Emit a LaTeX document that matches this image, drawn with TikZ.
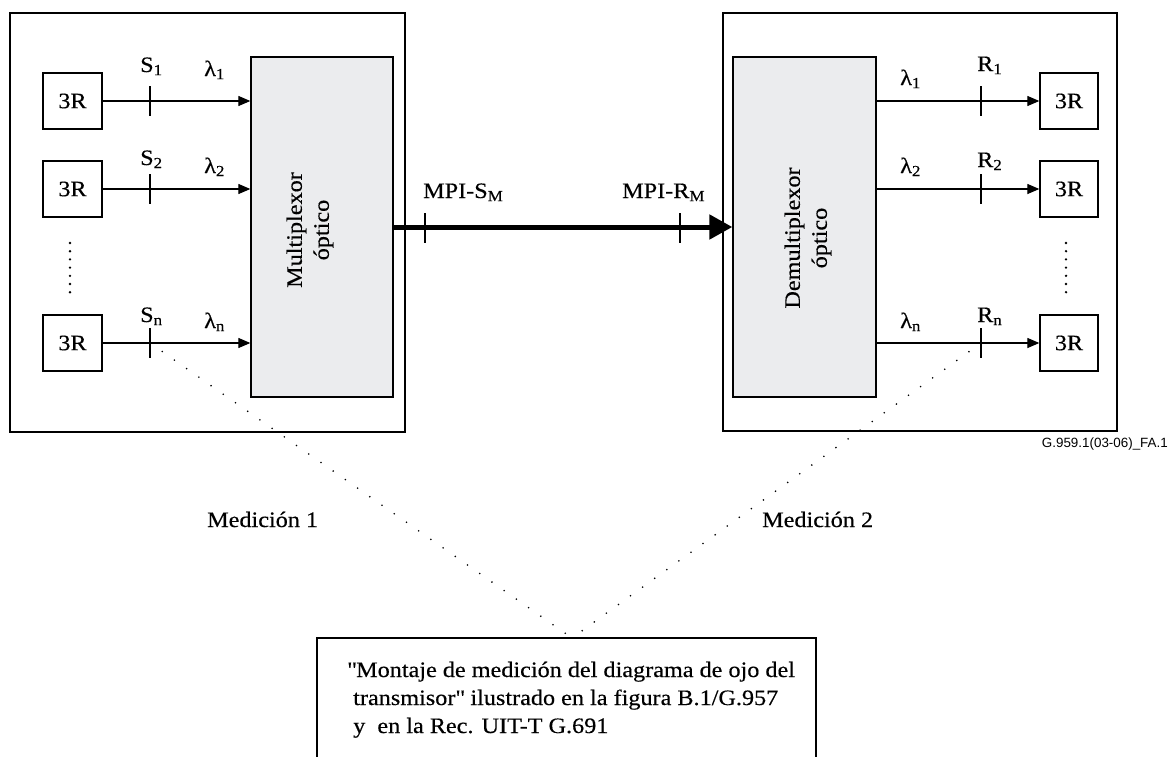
\documentclass[tikz,border=0pt]{standalone}
\usepackage{fontspec}
\setmainfont[FakeStretch=1.1,FakeBold=0.4]{Liberation Serif}
\newfontfamily\figsans{Liberation Sans}
\usetikzlibrary{arrows.meta}
\definecolor{muxgray}{RGB}{235,236,238}
\tikzset{%
    rbox/.style={draw, line width=1.3pt, minimum width=59pt, minimum height=56pt,
        inner sep=0pt, font=\fontsize{22}{26}\selectfont},
    muxbox/.style={draw, line width=1.3pt, fill=muxgray, minimum width=142pt,
        minimum height=340pt, inner sep=0pt},
    muxtext/.style={rotate=90, align=center, inner sep=0pt,
        font=\fontsize{22}{27}\selectfont},
    sig/.style={line width=1.2pt, -{Triangle[length=12pt,width=10pt]}},
    trunk/.style={line width=5pt, -{Triangle[length=23pt,width=24pt]}},
    tick/.style={line width=1.2pt},
    lbl/.style={anchor=base west, inner sep=0pt, font=\fontsize{22}{26}\selectfont},
    probe/.style={line width=1.8pt, line cap=round, dash pattern=on 0pt off 14.9pt},
    vdots/.style={line width=2.6pt, line cap=round, dash pattern=on 0pt off 8.2pt}
}

\begin{document}
\begin{tikzpicture}[x=1pt,y=-1pt]
    \useasboundingbox (0,0) rectangle (1171,756);
%-----------------------------------------------
    \draw[line width=1.3pt] (10,13) rectangle (405,432);
    \draw[line width=1.3pt] (723,13) rectangle (1117,431);
    \node[muxbox] (mux) at (322,227) {};
    \node[muxbox, minimum width=143pt] (demux) at (804.5,227) {};
    \node[muxtext] (muxlbl) at (310,230) {Multiplexor\\óptico};
    \node[muxtext] (demuxlbl) at (808,238) {Demultiplexor\\óptico};
%-----------------------------------------------
    \foreach \i/\y/\sy/\ly in {1/101/72/76, 2/189/165/173, n/343/322/328}{
        \node[rbox] (tx\i) at (72.5,\y) {3R};
        \coordinate (s\i) at (150,\y);
        \draw[sig] (tx\i.east) -- (tx\i.east -| mux.west);
        \draw[tick] (s\i) ++(0,-15) -- ++(0,30);
        \node[lbl] (slbl\i) at (140,\sy) {S\textsubscript{\i}};
        \node[lbl] (lslbl\i) at (204,\ly) {λ\textsubscript{\i}};
    }
    \foreach \i/\y/\ry/\ly in {1/101/71/85, 2/189/167/173, n/343/322/328}{
        \node[rbox, minimum width=58pt] (rx\i) at (1069,\y) {3R};
        \coordinate (r\i) at (981,\y);
        \draw[sig] (rx\i.west -| demux.east) -- (rx\i.west);
        \draw[tick] (r\i) ++(0,-15) -- ++(0,30);
        \node[lbl] (rlbl\i) at (977,\ry) {R\textsubscript{\i}};
        \node[lbl] (lrlbl\i) at (900,\ly) {λ\textsubscript{\i}};
    }
    \draw[vdots] (70,243) -- (70,296);
    \draw[vdots] (1066,243) -- (1066,296);
%-----------------------------------------------
    \draw[trunk] (mux.east) -- (demux.west);
    \coordinate (mpis) at (425,228);
    \coordinate (mpir) at (680,228);
    \draw[tick] (mpis) ++(0,-15) -- ++(0,30);
    \draw[tick] (mpir) ++(0,-15) -- ++(0,30);
    \node[lbl] (mpislbl) at (423,198) {MPI-S\textsubscript{M}};
    \node[lbl] (mpirlbl) at (622,198) {MPI-R\textsubscript{M}};
%-----------------------------------------------
    \coordinate (apex) at (572,638);
    \draw[probe] (sn) -- (apex);
    \draw[probe] (rn) -- (apex);
    \node[lbl] (med1) at (207,527) {Medición 1};
    \node[lbl] (med2) at (762,527) {Medición 2};
    \draw[line width=1.3pt] (317,638) rectangle (816,770);
    \node[lbl] (note1) at (347,677) {\textquotedbl Montaje de medición del diagrama de ojo del};
    \node[lbl] (note2) at (347,705) {\ transmisor\textquotedbl\ ilustrado en la figura B.1/G.957};
    \node[lbl] (note3) at (347,733) {\ y\ \ en la Rec. UIT-T G.691};
%-----------------------------------------------
    \node[anchor=base east, inner sep=0pt, font=\figsans\fontsize{13.4}{16}\selectfont]
        (figid) at (1168,447) {G.959.1(03-06)\_FA.1};
\end{tikzpicture}
\end{document}
